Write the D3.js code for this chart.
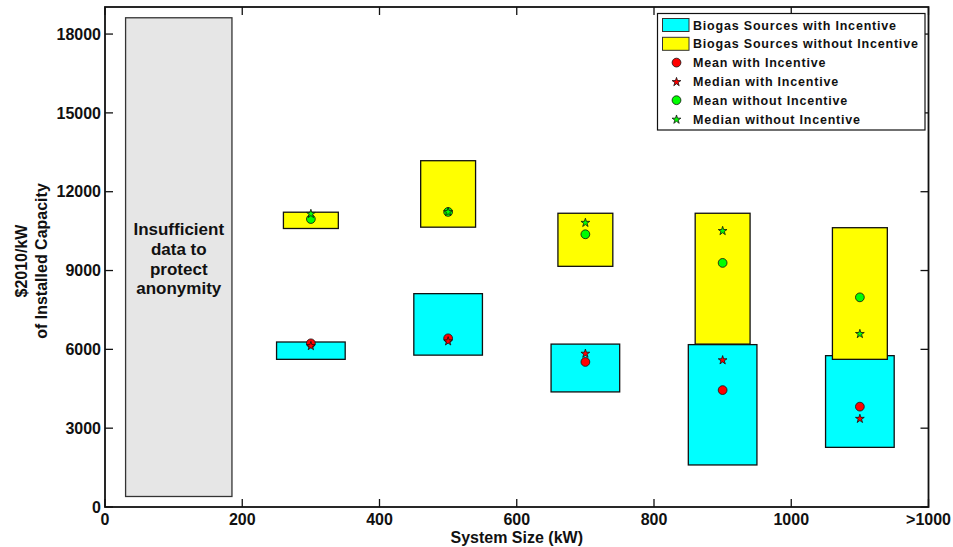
<!DOCTYPE html>
<html>
<head>
<meta charset="utf-8">
<script src="https://cdn.jsdelivr.net/npm/d3@7"></script>
<style>
  html, body { margin: 0; padding: 0; background: #fff; }
  svg { display: block; }
  text { font-family: Arial, "Liberation Sans", Helvetica, sans-serif; font-weight: bold; fill: #111; }
</style>
</head>
<body>
<svg id="chart" width="953" height="547"></svg>
<script>
// System size bins (kW), plotted at the bin centre
const sizes = [300, 500, 700, 900, 1100];
const xTickValues = [0, 200, 400, 600, 800, 1000, 1200];
const xTickLabels = ["0", "200", "400", "600", "800", "1000", ">1000"];
const yTickValues = [0, 3000, 6000, 9000, 12000, 15000, 18000];

// Range of installed cost ($2010/kW) for each bin
const withLow = [5620, 5780, 4380, 1600, 2270];
const withHigh = [6280, 8120, 6200, 6180, 5760];
const withoutLow = [10600, 10650, 9160, 6200, 5620];
const withoutHigh = [11220, 13180, 11180, 11180, 10630];

// Summary statistics
const meanWith = [6230, 6420, 5520, 4450, 3820];
const medianWith = [6150, 6330, 5860, 5610, 3380];
const meanWithout = [10960, 11230, 10380, 9290, 7980];
const medianWithout = [11180, 11250, 10840, 10530, 6610];

// Suppressed bin (smallest systems)
const suppressedX = [30, 185];
const suppressedY = [400, 18620];
const suppressedText = ["Insufficient", "data to", "protect", "anonymity"];

const legendItems = [
  { type: "rect", fill: "#00ffff", label: "Biogas Sources with Incentive" },
  { type: "rect", fill: "#ffff00", label: "Biogas Sources without Incentive" },
  { type: "circle", fill: "#ff0000", label: "Mean with Incentive" },
  { type: "star", fill: "#ff0000", label: "Median with Incentive" },
  { type: "circle", fill: "#00ff00", label: "Mean without Incentive" },
  { type: "star", fill: "#00ff00", label: "Median without Incentive" }
];

const svg = d3.select("#chart");
const plotLeft = 105, plotRight = 928.5, plotTop = 7, plotBottom = 507;

const x = d3.scaleLinear().domain([0, 1200]).range([plotLeft, plotRight]);
const y = d3.scaleLinear().domain([0, 19030]).range([plotBottom, plotTop]);

// Half-widths of the range boxes, in kW
const withHalf = 50, withoutHalf = 40;
const starPath = d3.symbol().type(d3.symbolStar).size(24);

// Suppressed bin
svg.append("rect")
  .attr("x", x(suppressedX[0])).attr("y", y(suppressedY[1]))
  .attr("width", x(suppressedX[1]) - x(suppressedX[0]))
  .attr("height", y(suppressedY[0]) - y(suppressedY[1]))
  .attr("fill", "#e6e6e6").attr("stroke", "#333").attr("stroke-width", 1.3);

svg.append("text")
  .attr("text-anchor", "middle")
  .attr("font-size", 17)
  .selectAll("tspan").data(suppressedText).join("tspan")
  .attr("x", (x(suppressedX[0]) + x(suppressedX[1])) / 2)
  .attr("y", (d, i) => 235 + i * 19.8)
  .text(d => d);

// Ranges with incentive
svg.append("g").selectAll("rect").data(sizes).join("rect")
  .attr("x", d => x(d - withHalf))
  .attr("width", d => x(d + withHalf) - x(d - withHalf))
  .attr("y", (d, i) => y(withHigh[i]))
  .attr("height", (d, i) => y(withLow[i]) - y(withHigh[i]))
  .attr("fill", "#00ffff").attr("stroke", "#111").attr("stroke-width", 1.3);

// Ranges without incentive
svg.append("g").selectAll("rect").data(sizes).join("rect")
  .attr("x", d => x(d - withoutHalf))
  .attr("width", d => x(d + withoutHalf) - x(d - withoutHalf))
  .attr("y", (d, i) => y(withoutHigh[i]))
  .attr("height", (d, i) => y(withoutLow[i]) - y(withoutHigh[i]))
  .attr("fill", "#ffff00").attr("stroke", "#111").attr("stroke-width", 1.3);

function circles(values, fill) {
  svg.append("g").selectAll("circle").data(sizes).join("circle")
    .attr("cx", d => x(d)).attr("cy", (d, i) => y(values[i]))
    .attr("r", 4.4).attr("fill", fill).attr("stroke", "#111").attr("stroke-width", 0.8);
}
function stars(values, fill) {
  svg.append("g").selectAll("path").data(sizes).join("path")
    .attr("d", starPath)
    .attr("transform", (d, i) => `translate(${x(d)},${y(values[i]) + 0.6})`)
    .attr("fill", fill).attr("stroke", "#111").attr("stroke-width", 0.8);
}
circles(meanWith, "#ff0000");
stars(medianWith, "#ff0000");
circles(meanWithout, "#00ff00");
stars(medianWithout, "#00ff00");

// Axes box with inward ticks on all sides
const tickLen = 8;
const axisG = svg.append("g").attr("stroke", "#111").attr("stroke-width", 1.3);
xTickValues.forEach(v => {
  axisG.append("line").attr("x1", x(v)).attr("x2", x(v)).attr("y1", plotBottom).attr("y2", plotBottom - tickLen);
  axisG.append("line").attr("x1", x(v)).attr("x2", x(v)).attr("y1", plotTop).attr("y2", plotTop + tickLen);
});
yTickValues.forEach(v => {
  axisG.append("line").attr("x1", plotLeft).attr("x2", plotLeft + tickLen).attr("y1", y(v)).attr("y2", y(v));
  axisG.append("line").attr("x1", plotRight).attr("x2", plotRight - tickLen).attr("y1", y(v)).attr("y2", y(v));
});
svg.append("rect")
  .attr("x", plotLeft).attr("y", plotTop).attr("width", plotRight - plotLeft).attr("height", plotBottom - plotTop)
  .attr("fill", "none").attr("stroke", "#111").attr("stroke-width", 1.8);

// Tick labels
svg.append("g").selectAll("text").data(xTickValues).join("text")
  .attr("x", d => x(d)).attr("y", plotBottom + 18)
  .attr("text-anchor", "middle").attr("font-size", 16)
  .text((d, i) => xTickLabels[i]);
svg.append("g").selectAll("text").data(yTickValues).join("text")
  .attr("x", plotLeft - 4).attr("y", d => y(d)).attr("dy", "0.36em")
  .attr("text-anchor", "end").attr("font-size", 16)
  .text(d => d);

// Axis titles
svg.append("text")
  .attr("x", (plotLeft + plotRight) / 2).attr("y", 543)
  .attr("text-anchor", "middle").attr("font-size", 16)
  .text("System Size (kW)");
const yTitle = svg.append("text")
  .attr("transform", "translate(0,261) rotate(-90)")
  .attr("text-anchor", "middle").attr("font-size", 16);
yTitle.append("tspan").attr("x", 0).attr("y", 27).text("$2010/kW");
yTitle.append("tspan").attr("x", 0).attr("y", 47).text("of Installed Capacity");

// Legend
const lg = svg.append("g");
lg.append("rect")
  .attr("x", 657.5).attr("y", 13.5).attr("width", 267.5).attr("height", 116.5)
  .attr("fill", "#fff").attr("stroke", "#111").attr("stroke-width", 1.2);
legendItems.forEach((it, i) => {
  const cy = 25 + i * 18.8;
  if (it.type === "rect") {
    lg.append("rect").attr("x", 662.5).attr("y", cy - 6.5).attr("width", 26.5).attr("height", 13)
      .attr("fill", it.fill).attr("stroke", "#333").attr("stroke-width", 1);
  } else if (it.type === "circle") {
    lg.append("circle").attr("cx", 676.5).attr("cy", cy).attr("r", 4.4)
      .attr("fill", it.fill).attr("stroke", "#111").attr("stroke-width", 0.8);
  } else {
    lg.append("path").attr("d", starPath).attr("transform", `translate(676.5,${cy + 0.6})`)
      .attr("fill", it.fill).attr("stroke", "#111").attr("stroke-width", 0.8);
  }
  lg.append("text").attr("x", 693).attr("y", cy).attr("dy", "0.36em")
    .attr("font-size", 12.5).attr("letter-spacing", 0.8).text(it.label);
});
</script>
</body>
</html>
